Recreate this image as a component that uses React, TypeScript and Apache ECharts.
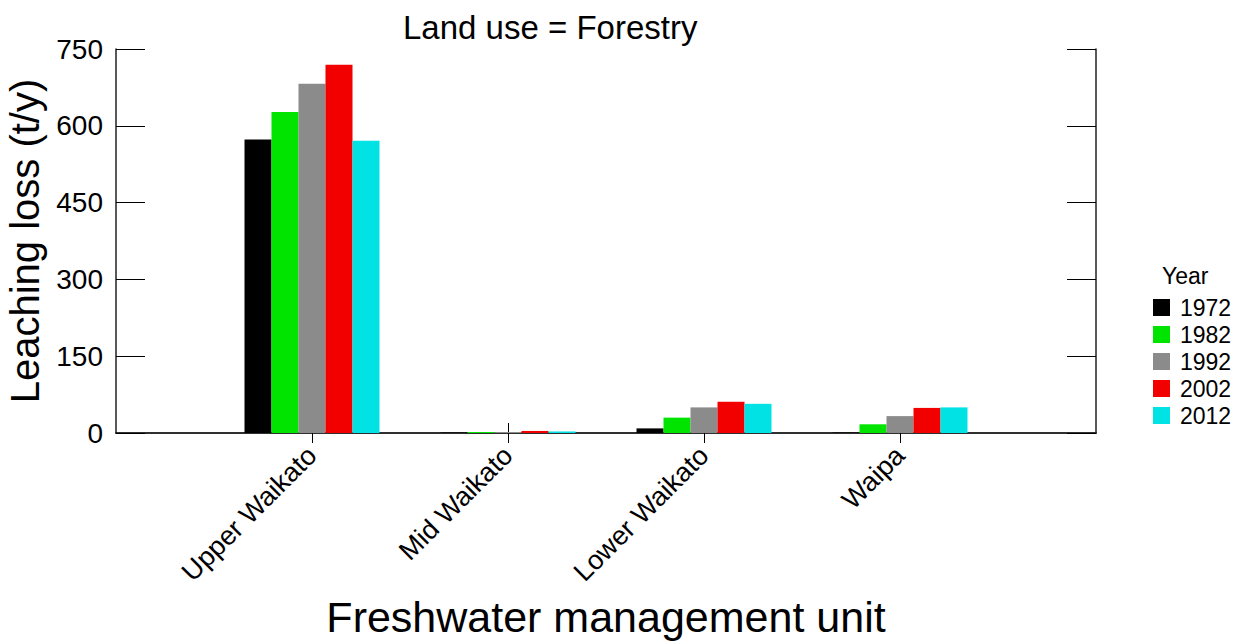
import React, { useEffect, useRef } from "react";
import * as echarts from "echarts";

const categories = ["", "Upper Waikato", "Mid Waikato", "Lower Waikato", "Waipa", ""];
const years = ["1972", "1982", "1992", "2002", "2012"];
const colors = ["#000000", "#00e400", "#8b8b8b", "#f20000", "#00e2e4"];
const v1972 = [null, 573, 1, 9, 1, null];
const v1982 = [null, 627, 2, 30, 17, null];
const v1992 = [null, 682, 2, 50, 33, null];
const v2002 = [null, 719, 4, 61, 49, null];
const v2012 = [null, 571, 3, 57, 50, null];
const seriesValues = [v1972, v1982, v1992, v2002, v2012];
const yTicks = { min: 0, max: 750, interval: 150 };

export default function App() {
  const ref = useRef<HTMLDivElement>(null);
  useEffect(() => {
    const chart = echarts.init(ref.current!, null, { renderer: "svg" });
    const font = "Liberation Sans, Arial, sans-serif";
    const axisLine = { show: true, lineStyle: { color: "#222", width: 1.5 } };
    const inner = (i: number) => i > 0 && i < categories.length - 1;
    chart.setOption({
      animation: false,
      textStyle: { fontFamily: font },
      title: [
        {
          text: "Land use = Forestry",
          left: 398,
          top: 6,
          textStyle: { fontSize: 33, fontWeight: "normal", color: "#000", fontFamily: font },
        },
        {
          text: "Year",
          left: 1157,
          top: 259,
          textStyle: { fontSize: 23, fontWeight: "normal", color: "#000", fontFamily: font },
        },
      ],
      legend: {
        orient: "vertical",
        left: 1153,
        top: 296,
        padding: 0,
        itemWidth: 17,
        itemHeight: 17,
        itemGap: 4,
        icon: "rect",
        data: years,
        textStyle: { fontSize: 23, color: "#000", fontFamily: font, padding: [0, 0, 0, 5] },
      },
      grid: { left: 116, right: 148, top: 49, bottom: 208, outerBoundsMode: "none", containLabel: false },
      xAxis: [
        {
          type: "category",
          data: categories,
          boundaryGap: false,
          axisLine,
          axisTick: { show: true, inside: true, length: 10, interval: inner, lineStyle: { color: "#000" } },
          axisLabel: {
            rotate: 45,
            fontSize: 27,
            color: "#000",
            margin: 18,
            interval: inner,
            padding: [20, 0, 0, 0],
            fontFamily: font,
          },
          name: "Freshwater management unit",
          nameLocation: "middle",
          nameGap: 162,
          nameTextStyle: { fontSize: 43, color: "#000", fontFamily: font },
        },
        {
          type: "category",
          data: categories,
          boundaryGap: false,
          position: "top",
          axisLine,
          axisTick: { show: true, inside: true, length: 10, interval: inner, lineStyle: { color: "#000" } },
          axisLabel: { show: false },
        },
      ],
      yAxis: [
        {
          type: "value",
          min: yTicks.min,
          max: yTicks.max,
          interval: yTicks.interval,
          axisLine,
          splitLine: { show: false },
          axisTick: { show: true, inside: true, length: 29, lineStyle: { color: "#000" } },
          axisLabel: { fontSize: 28, color: "#000", margin: 13, fontFamily: font },
          name: "Leaching loss (t/y)",
          nameLocation: "middle",
          nameGap: 62,
          nameTextStyle: { fontSize: 40, color: "#000", fontFamily: font },
        },
        {
          type: "value",
          min: yTicks.min,
          max: yTicks.max,
          interval: yTicks.interval,
          position: "right",
          axisLine,
          splitLine: { show: false },
          axisTick: { show: true, inside: true, length: 29, lineStyle: { color: "#000" } },
          axisLabel: { show: false },
        },
      ],
      series: years.map((y, i) => ({
        name: y,
        type: "bar",
        data: seriesValues[i],
        barWidth: 27,
        barGap: "0%",
        itemStyle: { color: colors[i] },
      })),
    });
    return () => chart.dispose();
  }, []);
  return (
    <div
      ref={ref}
      style={{ position: "fixed", left: 0, top: 0, width: 1244, height: 641, background: "#fff" }}
    />
  );
}
